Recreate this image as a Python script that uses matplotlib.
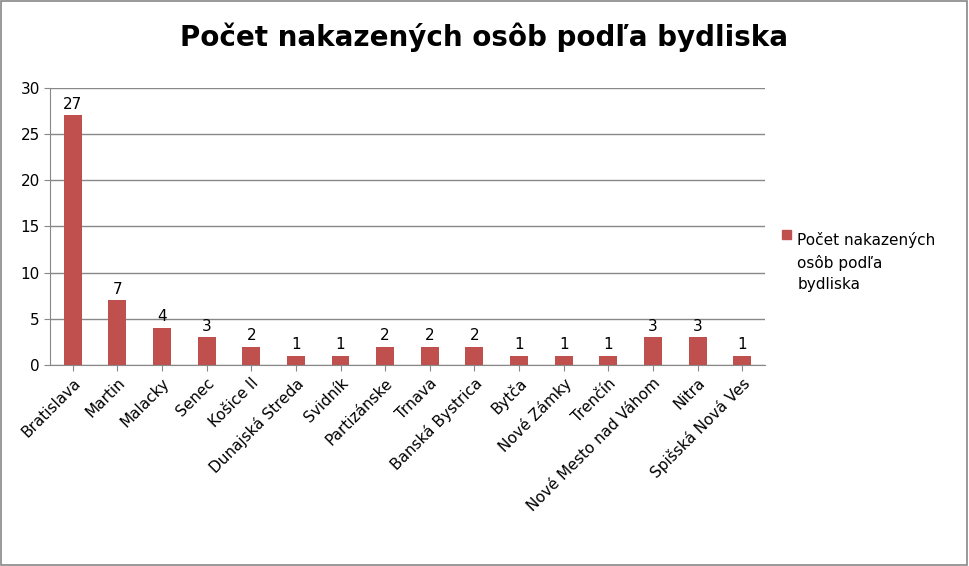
import matplotlib.pyplot as plt
import matplotlib.patches as mpatches

cities = ["Bratislava", "Martin", "Malacky", "Senec", "Košice II", "Dunajská Streda",
          "Svidník", "Partizánske", "Trnava", "Banská Bystrica", "Bytča", "Nové Zámky",
          "Trenčín", "Nové Mesto nad Váhom", "Nitra", "Spišská Nová Ves"]
counts = [27, 7, 4, 3, 2, 1, 1, 2, 2, 2, 1, 1, 1, 3, 3, 1]
title = "Počet nakazených osôb podľa bydliska"
bar_color = "#C0504D"

fig = plt.figure(figsize=(9.69, 5.66), dpi=100)
fig.patches.append(mpatches.Rectangle((0.001, 0.002), 0.997, 0.996, transform=fig.transFigure,
                                      fill=False, edgecolor="#888888", lw=1.2))
ax = fig.add_axes([0.052, 0.355, 0.737, 0.49])

x = range(len(cities))
bars = ax.bar(x, counts, width=0.4, color=bar_color, zorder=2)
for xi, v in zip(x, counts):
    ax.text(xi, v + 0.4, str(v), ha="center", va="bottom", fontsize=11)

ax.set_ylim(0, 30)
ax.set_xlim(-0.5, len(cities) - 0.5)
ax.set_yticks(range(0, 31, 5))
ax.yaxis.grid(True, color="#888888", lw=1, zorder=0)
ax.set_xticks(list(x))
ax.set_xticklabels(cities, rotation=45, ha="right", rotation_mode="anchor", fontsize=11)
ax.tick_params(axis="y", labelsize=11, length=4, color="#888888")
ax.tick_params(axis="x", length=4, color="#888888")
for s in ["top", "right"]:
    ax.spines[s].set_visible(False)
for s in ["left", "bottom"]:
    ax.spines[s].set_color("#888888")

fig.text(0.5, 0.935, title, ha="center", va="center", fontsize=20, fontweight="bold")

fig.patches.append(mpatches.Rectangle((0.807, 0.578), 0.009, 0.016, transform=fig.transFigure,
                                      color=bar_color))
fig.text(0.823, 0.59, "Počet nakazených\nosôb podľa\nbydliska", ha="left", va="top",
         fontsize=11, linespacing=1.5)

fig.savefig("out.png", dpi=100)
